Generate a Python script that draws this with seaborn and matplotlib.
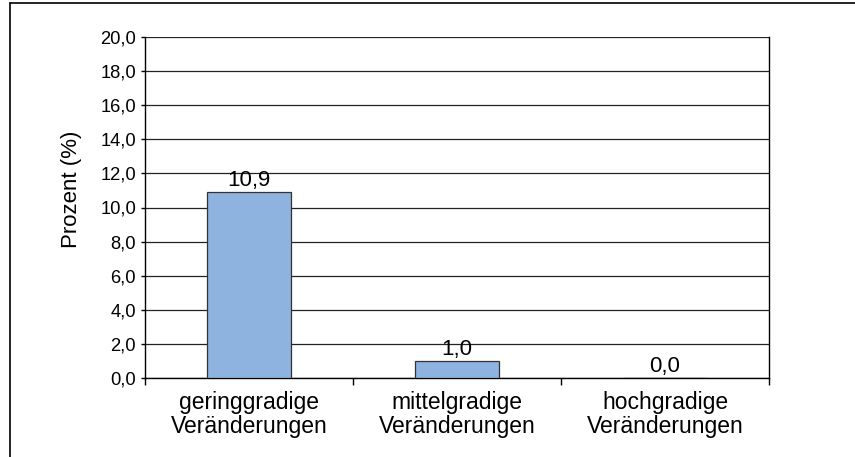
import matplotlib
matplotlib.use("Agg")
import matplotlib.pyplot as plt
import seaborn as sns
import pandas as pd
from matplotlib.ticker import FixedLocator, FuncFormatter
from matplotlib.lines import Line2D

categories = ["geringgradige\nVeränderungen", "mittelgradige\nVeränderungen", "hochgradige\nVeränderungen"]
values = [10.9, 1.0, 0.0]
value_labels = ["10,9", "1,0", "0,0"]
y_ticks = [0, 2, 4, 6, 8, 10, 12, 14, 16, 18, 20]

sns.set_theme(style="white")
plt.rcParams['font.family'] = ['Liberation Sans', 'DejaVu Sans']

df = pd.DataFrame({"Kategorie": categories, "Prozent": values})

fig = plt.figure(figsize=(8.55, 4.57), dpi=100)
ax = fig.add_axes([145/855, 1-378/457, 624/855, 341/457])

sns.barplot(data=df, x="Kategorie", y="Prozent", ax=ax, color="#8DB3DE",
            saturation=1, width=0.40, edgecolor="#333333", linewidth=0.9, zorder=3)

ax.set_ylim(0, 20)
ax.set_xlim(-0.5, 2.5)
ax.yaxis.set_major_locator(FixedLocator(y_ticks))
ax.yaxis.set_major_formatter(FuncFormatter(lambda v, p: f"{v:.1f}".replace(".", ",")))
ax.grid(axis="y", color="#222222", linewidth=0.9, zorder=0)
ax.set_axisbelow(True)

for s in ["top", "left", "right", "bottom"]:
    ax.spines[s].set_visible(False)
ax.spines["left"].set_visible(True)
ax.spines["right"].set_visible(True)
ax.spines["bottom"].set_visible(True)
for s in ["left", "right", "bottom"]:
    ax.spines[s].set_color("black")
    ax.spines[s].set_linewidth(1.0)

ax.tick_params(axis="y", which="major", left=True, length=3, width=1, color="black",
               labelsize=13.2, pad=3.4, labelcolor="black")
ax.set_xticks([0, 1, 2])
ax.set_xticklabels(categories, fontsize=16.5, linespacing=1.1)
ax.tick_params(axis="x", which="major", bottom=False, length=0, pad=9, labelcolor="black")
ax.set_xticks([-0.5, 0.5, 1.5, 2.5], minor=True)
ax.tick_params(axis="x", which="minor", bottom=True, length=5, width=1, color="black")

ax.set_xlabel("")
ax.set_ylabel("Prozent (%)", fontsize=16, color="black")
ax.yaxis.set_label_coords((82 - 145) / 624, (378 - 189) / 341)

for i, (v, lab) in enumerate(zip(values, value_labels)):
    ax.annotate(lab, xy=(i, v), xytext=(0, 1), textcoords="offset points",
                ha="center", va="bottom", fontsize=16, color="black", zorder=5)

# figure frame (top and left edges visible)
fig.add_artist(Line2D([10/855, 10/855], [0, 1-3/457], transform=fig.transFigure,
                      color="black", linewidth=1.2))
fig.add_artist(Line2D([10/855, 1], [1-3/457, 1-3/457], transform=fig.transFigure,
                      color="black", linewidth=1.2))

fig.savefig("out.png", dpi=100)
